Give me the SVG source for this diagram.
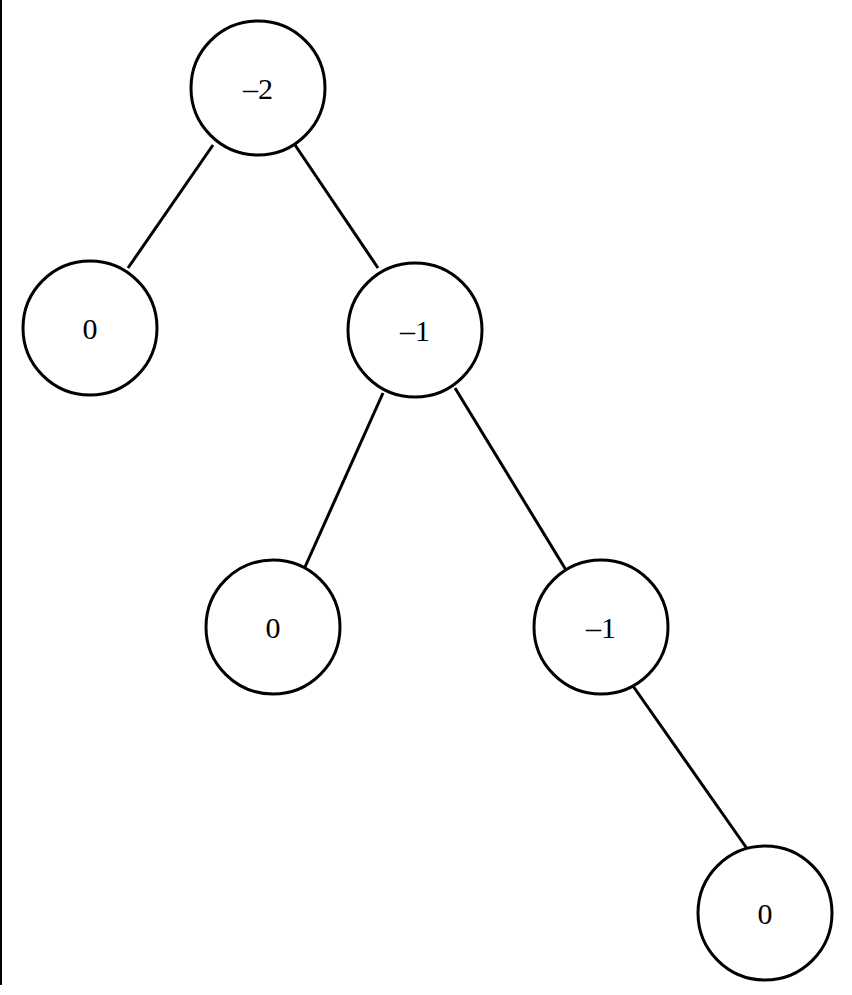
<svg xmlns="http://www.w3.org/2000/svg" width="852" height="995" viewBox="0 0 852 995">
<style>
.n{fill:#fff;stroke:#000;stroke-width:3}
.t{font-family:"Liberation Serif",serif;font-size:30px;text-anchor:middle;dominant-baseline:central}
.e{stroke:#000;stroke-width:3}
</style>
<rect width="852" height="995" fill="#fff"/>
<line x1="1" y1="0" x2="1" y2="985" stroke="#000" stroke-width="2"/>
<g id="edges">
<line class="e" x1="213" y1="145" x2="128" y2="268"/>
<line class="e" x1="293" y1="142" x2="378" y2="268"/>
<line class="e" x1="383" y1="393" x2="305" y2="567"/>
<line class="e" x1="455" y1="388" x2="566" y2="570"/>
<line class="e" x1="633" y1="686" x2="748" y2="850"/>
</g>
<g id="n1"><circle class="n" cx="258" cy="88" r="67"/><text class="t" x="258" y="88">–2</text></g>
<g id="n2"><circle class="n" cx="90" cy="328" r="67"/><text class="t" x="90" y="328">0</text></g>
<g id="n3"><circle class="n" cx="415" cy="330" r="67"/><text class="t" x="415" y="330">–1</text></g>
<g id="n4"><circle class="n" cx="273" cy="627" r="67"/><text class="t" x="273" y="627">0</text></g>
<g id="n5"><circle class="n" cx="601" cy="627" r="67"/><text class="t" x="601" y="627">–1</text></g>
<g id="n6"><circle class="n" cx="765" cy="913" r="67"/><text class="t" x="765" y="913">0</text></g>
</svg>
